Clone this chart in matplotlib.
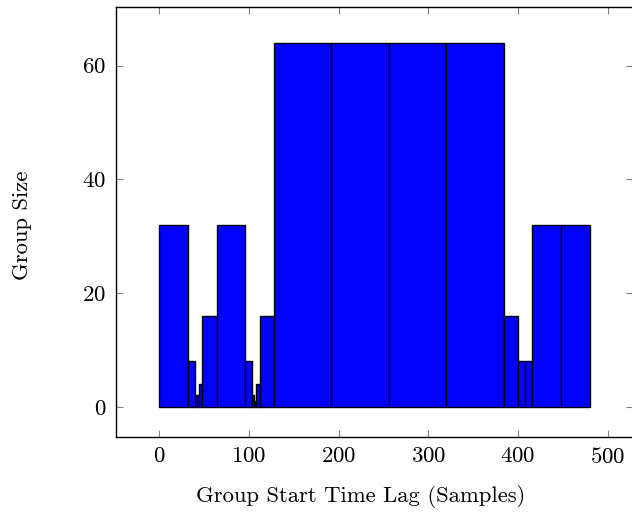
import matplotlib
matplotlib.use("Agg")
import matplotlib.pyplot as plt

group_starts = [0, 32, 40, 42, 44, 48, 64, 96, 104, 106, 107, 108, 112, 128,
                192, 256, 320, 384, 400, 408, 416, 448]
group_sizes = [32, 8, 2, 2, 4, 16, 32, 8, 2, 1, 1, 4, 16, 64,
               64, 64, 64, 16, 8, 8, 32, 32]
x_ticks = [0, 100, 200, 300, 400, 500]
y_ticks = [0, 20, 40, 60]

plt.rcParams['font.family'] = ['cmr10', 'DejaVu Serif']
plt.rcParams['mathtext.fontset'] = 'cm'
plt.rcParams['axes.formatter.use_mathtext'] = True

W, H = 632, 514
fig = plt.figure(figsize=(W / 100, H / 100), dpi=100)
left, right, top, bottom = 116, 633, 7, 437
ax = fig.add_axes([left / W, 1 - bottom / H, (right - left) / W, (bottom - top) / H])

ax.bar(group_starts, group_sizes, width=group_sizes, align='edge',
       color='#0000ff', edgecolor='black', linewidth=1.0)

ax.set_xlim(-48, 528)
ax.set_ylim(-5.3, 70.3)
ax.set_xticks(x_ticks)
ax.set_yticks(y_ticks)
ax.tick_params(direction='in', top=True, right=True, length=5, width=0.8,
               color='#808080', labelsize=16.5, pad=7)
for s in ax.spines.values():
    s.set_linewidth(1.0)

fig.text(361 / W, 1 - 496 / H, 'Group Start Time Lag (Samples)', fontsize=16.3,
         ha='center', va='center')
fig.text(22 / W, 1 - 225 / H, 'Group Size', fontsize=16.3, rotation=90,
         ha='center', va='center')

fig.savefig('out.png', dpi=100)
